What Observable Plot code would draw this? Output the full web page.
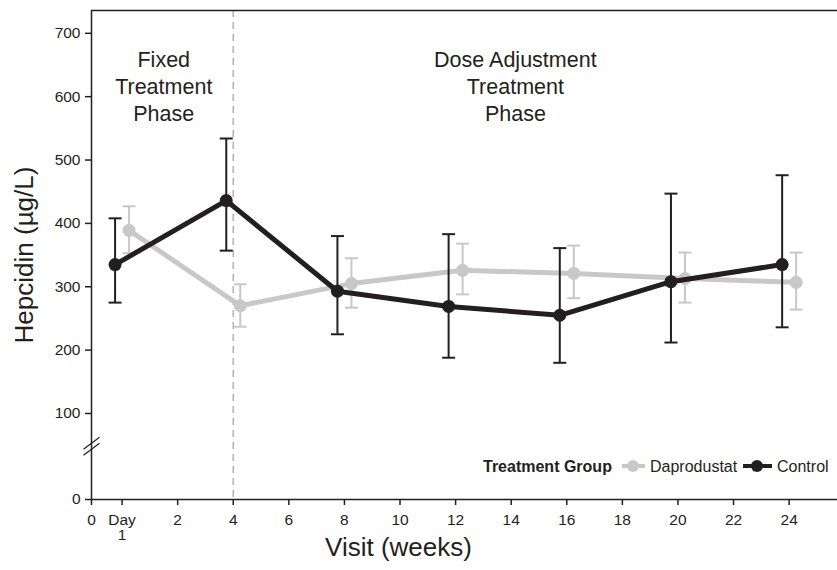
<!DOCTYPE html>
<html><head><meta charset="utf-8">
<script src="https://cdn.jsdelivr.net/npm/d3@7"></script>
<script src="https://cdn.jsdelivr.net/npm/@observablehq/plot@0.6"></script>
<style>body{margin:0;background:#fff}</style>
</head><body><div id="chart"></div>
<script>
// ---- data ----
const weeks = [0, 4, 8, 12, 16, 20, 24];
const controlMean = [335, 436, 293, 269, 255, 308, 335];
const controlLo   = [275, 357, 225, 188, 180, 212, 236];
const controlHi   = [408, 534, 380, 383, 361, 447, 476];
const dapMean = [389, 270, 305, 326, 321, 313, 307];
const dapLo   = [353, 237, 267, 288, 282, 275, 264];
const dapHi   = [427, 304, 345, 368, 365, 354, 354];
const groupNames  = ["Daprodustat", "Control"];
const groupColors = ["#c8c8c8", "#231f20"];
const xTickValues = [-1.1, 0, 2, 4, 6, 8, 10, 12, 14, 16, 18, 20, 22, 24];
const xTickLabels = ["0", "Day\n1", "2", "4", "6", "8", "10", "12", "14", "16", "18", "20", "22", "24"];
const yTickValues = [0, 100, 200, 300, 400, 500, 600, 700];
const phaseLabels = ["Fixed\nTreatment\nPhase", "Dose Adjustment\nTreatment\nPhase"];
const phaseWeeks  = [1.5, 14.15];
const phaseLevel  = [618, 618];
const phaseBoundary = [4];
const breakLevel = [62];

// ---- build ----
const ink = "#231f20";
const font = "'Liberation Sans', Arial, Helvetica, sans-serif";
const xMin = -1.1, xMax = 25.74, yTop = 736;
const W = 837, H = 570, mL = 91, mR = 0, mT = 10, mB = 71;
// broken y axis: the 0–100 segment is stretched (86 px vs 63.4 px per 100)
const breakStretch = 1.3575;
const yBreak = v => v >= 100 ? v : 100 - (100 - v) * breakStretch;

const groups = [
  {name: groupNames[0], color: groupColors[0], mean: dapMean, lo: dapLo, hi: dapHi, dx: 7},
  {name: groupNames[1], color: groupColors[1], mean: controlMean, lo: controlLo, hi: controlHi, dx: -7}
];
const labelMap = new Map(xTickValues.map((v, i) => [v, xTickLabels[i]]));
const capSymbol = {draw(ctx) { ctx.moveTo(-6.5, 0); ctx.lineTo(6.5, 0); }};
const breakSymbol = {draw(ctx) {
  ctx.moveTo(-8, 3); ctx.lineTo(8, -9);
  ctx.moveTo(-8, 9); ctx.lineTo(8, -3);
}};

const marks = [
  Plot.ruleX(phaseBoundary, {stroke: "#b4b4b4", strokeWidth: 1.5, strokeDasharray: "7,5"}),
  Plot.ruleY([yTop], {stroke: ink, strokeWidth: 1.5}),
  Plot.ruleY([0], {stroke: ink, strokeWidth: 1.5}),
  Plot.ruleX([xMin], {stroke: ink, strokeWidth: 1.5}),
  Plot.dot(breakLevel, {x: () => xMin, y: d => d, symbol: breakSymbol, r: 8, fill: "none", stroke: ink, strokeWidth: 1.2}),
  Plot.axisY(yTickValues, {tickSize: 6, tickPadding: 5, fontSize: 15.5, label: null, stroke: ink, fill: ink, strokeWidth: 1.5}),
  Plot.axisX(xTickValues, {tickSize: 6, tickPadding: 8, fontSize: 15.5, label: null, tickFormat: d => labelMap.get(d), stroke: ink, fill: ink, strokeWidth: 1.5, lineHeight: 1}),
  Plot.text(phaseLabels, {x: (d, i) => phaseWeeks[i], y: (d, i) => phaseLevel[i], text: d => d, fontSize: 21.5, lineHeight: 1.256, fill: ink}),
  Plot.text(["Hepcidin (\u00b5g/L)"], {frameAnchor: "left", textAnchor: "middle", dx: -67, rotate: -90, fontSize: 26, fill: ink}),
  Plot.text(["Visit (weeks)"], {frameAnchor: "bottom", textAnchor: "middle", dx: -66, dy: 56, fontSize: 26, fill: ink})
];

for (const g of groups) {
  const rows = weeks.map((w, i) => ({week: w, mean: g.mean[i], lo: g.lo[i], hi: g.hi[i]}));
  marks.push(
    Plot.ruleX(rows, {x: "week", y1: "lo", y2: "hi", stroke: g.color, strokeWidth: 2, dx: g.dx}),
    Plot.dot(rows, {x: "week", y: "hi", symbol: capSymbol, r: 6.5, fill: "none", stroke: g.color, strokeWidth: 2, dx: g.dx}),
    Plot.dot(rows, {x: "week", y: "lo", symbol: capSymbol, r: 6.5, fill: "none", stroke: g.color, strokeWidth: 2, dx: g.dx}),
    Plot.line(rows, {x: "week", y: "mean", stroke: g.color, strokeWidth: 5, dx: g.dx}),
    Plot.dot(rows, {x: "week", y: "mean", r: 6.5, fill: g.color, stroke: "none", dx: g.dx})
  );
}

const plot = Plot.plot({
  width: W, height: H,
  marginLeft: mL, marginRight: mR, marginTop: mT, marginBottom: mB,
  style: {fontFamily: font, color: ink, background: "#fff", overflow: "visible"},
  x: {domain: [xMin, xMax], axis: null},
  y: {transform: yBreak, domain: [yBreak(0), yTop], axis: null},
  marks
});

// ---- legend (inside the panel, bottom right) ----
const svg = d3.select(plot);
const lg = svg.append("g").attr("font-family", font).attr("font-size", 16).attr("fill", ink).attr("text-anchor", "start");
const ly = 466;
lg.append("text").attr("x", 483).attr("y", ly).attr("dy", "0.35em").attr("font-weight", "bold").text("Treatment Group");
const legendLayout = [{x0: 622, x1: 645, cx: 633, tx: 650}, {x0: 743, x1: 772, cx: 757, tx: 777}];
groups.forEach((g, i) => {
  const L = legendLayout[i];
  lg.append("line").attr("x1", L.x0).attr("x2", L.x1).attr("y1", ly).attr("y2", ly).attr("stroke", g.color).attr("stroke-width", 4);
  lg.append("circle").attr("cx", L.cx).attr("cy", ly).attr("r", 6).attr("fill", g.color);
  lg.append("text").attr("x", L.tx).attr("y", ly).attr("dy", "0.35em").text(g.name);
});

document.getElementById("chart").appendChild(plot);
</script>
</body></html>
